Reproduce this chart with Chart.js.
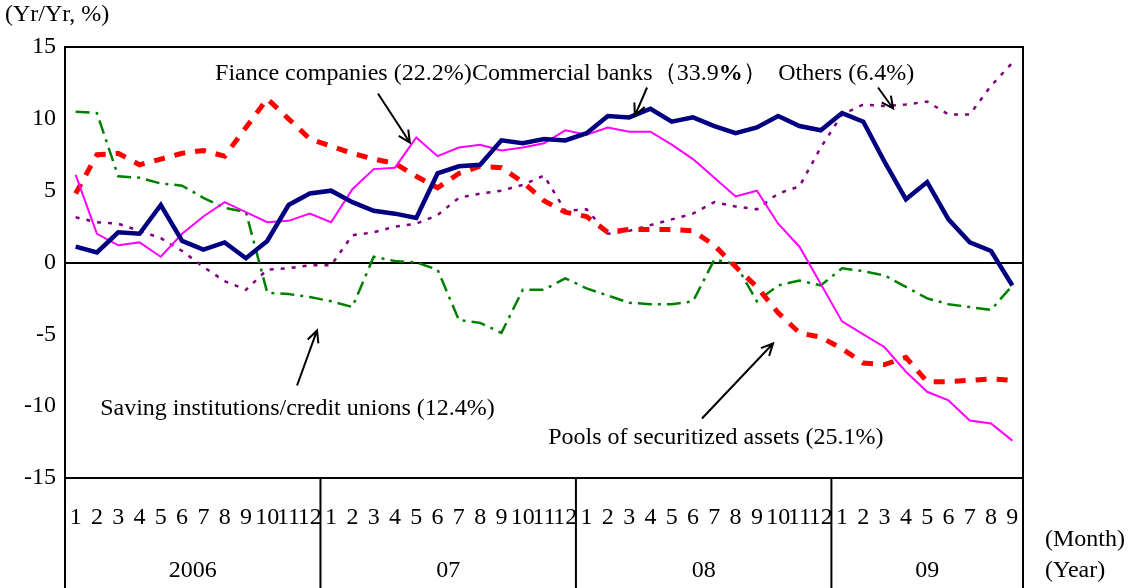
<!DOCTYPE html>
<html>
<head>
<meta charset="utf-8">
<script src="https://cdn.jsdelivr.net/npm/chart.js@4.4.1/dist/chart.umd.min.js"></script>
<style>
  html, body { margin: 0; padding: 0; background: #fff; }
  #wrap { width: 1128px; height: 588px; position: relative; }
</style>
</head>
<body>
<div id="wrap"><canvas id="chart"></canvas></div>
<script>
// months Jan 2006 .. Sep 2009
const monthTicks = [
  '1','2','3','4','5','6','7','8','9','10','11','12',
  '1','2','3','4','5','6','7','8','9','10','11','12',
  '1','2','3','4','5','6','7','8','9','10','11','12',
  '1','2','3','4','5','6','7','8','9'
];
const yearTicks = ['2006', '07', '08', '09'];
const yearMonths = [12, 12, 12, 9];

const commercialBanks = [
  1.1, 0.7, 2.1, 2.0, 4.0, 1.5, 0.9, 1.4, 0.3, 1.5, 4.0, 4.8,
  5.0, 4.2, 3.6, 3.4, 3.1, 6.2, 6.7, 6.8, 8.5, 8.3, 8.6, 8.5,
  9.0, 10.2, 10.1, 10.7, 9.8, 10.1, 9.5, 9.0, 9.4, 10.2, 9.5, 9.2,
  10.4, 9.8, 7.0, 4.4, 5.6, 3.0, 1.4, 0.8, -1.6
];
const financeCompanies = [
  6.1, 2.0, 1.2, 1.4, 0.4, 2.0, 3.2, 4.2, 3.5, 2.8, 2.9, 3.4,
  2.8, 5.1, 6.5, 6.6, 8.7, 7.4, 8.0, 8.2, 7.8, 8.0, 8.3, 9.2,
  8.9, 9.4, 9.1, 9.1, 8.2, 7.2, 5.9, 4.6, 5.0, 2.7, 1.1, -1.5,
  -4.1, -5.0, -5.9, -7.6, -9.0, -9.6, -11.0, -11.2, -12.4
];
const pools = [
  4.8, 7.5, 7.6, 6.8, 7.2, 7.6, 7.8, 7.4, 9.4, 11.4, 10.0, 8.6,
  8.1, 7.6, 7.2, 6.9, 6.0, 5.2, 6.2, 6.7, 6.6, 5.6, 4.3, 3.5,
  3.2, 2.1, 2.3, 2.3, 2.3, 2.2, 1.2, -0.3, -1.7, -3.5, -4.9, -5.2,
  -6.0, -7.0, -7.1, -6.6, -8.3, -8.3, -8.2, -8.1, -8.2
];
const savingInst = [
  10.5, 10.4, 6.0, 5.9, 5.5, 5.35, 4.5, 3.8, 3.5, -2.1, -2.2, -2.4,
  -2.7, -3.1, 0.4, 0.1, 0.0, -0.5, -4.0, -4.2, -4.9, -1.9, -1.9, -1.1,
  -1.8, -2.3, -2.8, -2.9, -2.9, -2.7, 0.2, -0.1, -2.7, -1.6, -1.25, -1.6,
  -0.4, -0.6, -0.9, -1.7, -2.5, -2.9, -3.1, -3.3, -1.6
];
const others = [
  3.15, 2.8, 2.7, 2.2, 1.7, 0.8, -0.3, -1.3, -1.9, -0.5, -0.4, -0.2,
  -0.2, 1.9, 2.1, 2.5, 2.7, 3.3, 4.5, 4.8, 5.0, 5.4, 6.05, 3.6,
  3.7, 2.0, 2.2, 2.6, 3.0, 3.4, 4.2, 3.9, 3.7, 4.8, 5.3, 8.0,
  10.3, 11.0, 10.9, 11.0, 11.2, 10.3, 10.3, 12.3, 13.9
];

// callouts, placed in data units (month index, value)
const notes = [
  { text: 'Fiance companies (22.2%)', x: 6.55, y: 13.15 },
  { text: 'Commercial banks（33.9', bold: '%', tail: '）', x: 18.62, y: 13.15 },
  { text: 'Others (6.4%)', x: 33.0, y: 13.15 },
  { text: 'Saving institutions/credit unions (12.4%)', x: 1.15, y: -10.16 },
  { text: 'Pools of securitized assets (25.1%)', x: 22.2, y: -12.18 }
];
const arrows = [
  { from: [14.2, 11.76], to: [15.7, 8.35] },
  { from: [26.84, 12.18], to: [26.27, 10.23] },
  { from: [37.69, 12.18], to: [38.4, 10.72] },
  { from: [10.4, -8.56], to: [11.34, -4.73] },
  { from: [29.42, -10.86], to: [32.76, -5.64] }
];

const FONT = '"Liberation Serif", "Times New Roman", serif';
const FS = 24;

const frameTable = {
  id: 'frameTable',
  afterDraw(chart) {
    const { ctx, chartArea: a, scales: { x, y } } = chart;
    ctx.save();
    ctx.strokeStyle = '#000';
    ctx.lineWidth = 2;
    ctx.strokeRect(a.left, a.top, a.right - a.left, a.bottom - a.top);

    // year table under the plot
    const H = chart.height;
    ctx.beginPath();
    ctx.moveTo(a.left, a.bottom); ctx.lineTo(a.left, H);
    ctx.moveTo(a.right, a.bottom); ctx.lineTo(a.right, H);
    let start = 0;
    ctx.font = FS + 'px ' + FONT;
    ctx.fillStyle = '#000';
    ctx.textAlign = 'center';
    ctx.textBaseline = 'middle';
    yearTicks.forEach((yr, i) => {
      const end = start + yearMonths[i] - 1;
      const l = start === 0 ? a.left : (x.getPixelForValue(start - 1) + x.getPixelForValue(start)) / 2;
      const r = end === monthTicks.length - 1 ? a.right : (x.getPixelForValue(end) + x.getPixelForValue(end + 1)) / 2;
      if (start !== 0) { ctx.moveTo(l, a.bottom); ctx.lineTo(l, H); }
      ctx.fillText(yr, (l + r) / 2, 571);
      start = end + 1;
    });
    ctx.stroke();

    ctx.textAlign = 'left';
    ctx.fillText('(Month)', a.right + 22, 540);
    ctx.fillText('(Year)', a.right + 22, 571);
    ctx.fillText('(Yr/Yr, %)', 5, 15);

    // callout texts
    notes.forEach(n => {
      let px = x.getPixelForValue(n.x), py = y.getPixelForValue(n.y);
      ctx.font = FS + 'px ' + FONT;
      ctx.fillText(n.text, px, py);
      if (n.bold) {
        px += ctx.measureText(n.text).width;
        ctx.font = 'bold ' + FS + 'px ' + FONT;
        ctx.fillText(n.bold, px, py);
        px += ctx.measureText(n.bold).width;
        ctx.font = FS + 'px ' + FONT;
        ctx.fillText(n.tail, px, py);
      }
    });

    // arrows
    ctx.lineWidth = 2;
    arrows.forEach(ar => {
      const x1 = x.getPixelForValue(ar.from[0]), y1 = y.getPixelForValue(ar.from[1]);
      const x2 = x.getPixelForValue(ar.to[0]), y2 = y.getPixelForValue(ar.to[1]);
      const ang = Math.atan2(y2 - y1, x2 - x1);
      ctx.beginPath();
      ctx.moveTo(x1, y1); ctx.lineTo(x2, y2);
      ctx.moveTo(x2 - 13 * Math.cos(ang - 0.45), y2 - 13 * Math.sin(ang - 0.45));
      ctx.lineTo(x2, y2);
      ctx.lineTo(x2 - 13 * Math.cos(ang + 0.45), y2 - 13 * Math.sin(ang + 0.45));
      ctx.stroke();
    });
    ctx.restore();
  }
};

const line = (label, data, color, width, dash) => ({
  label, data,
  borderColor: color,
  backgroundColor: color,
  borderWidth: width,
  borderDash: dash,
  pointRadius: 0,
  tension: 0,
  fill: false
});

new Chart(document.getElementById('chart'), {
  type: 'line',
  data: {
    labels: monthTicks,
    datasets: [
      line('Commercial banks', commercialBanks, '#000080', 4.5, []),
      line('Fiance companies', financeCompanies, '#ff00ff', 2, []),
      line('Pools of securitized assets', pools, '#ff0000', 5, [11, 10]),
      line('Saving institutions/credit unions', savingInst, '#008000', 2.5, [14, 6, 3, 6]),
      line('Others', others, '#800080', 2.5, [4, 7])
    ]
  },
  options: {
    responsive: true,
    maintainAspectRatio: false,
    animation: false,
    layout: { padding: { top: 47, right: 105, bottom: 0, left: 0 } },
    plugins: { legend: { display: false }, tooltip: { enabled: false } },
    scales: {
      x: {
        offset: true,
        grid: { display: false, drawTicks: false },
        border: { display: false },
        ticks: {
          autoSkip: false, maxRotation: 0, padding: 25,
          color: '#000', font: { family: FONT, size: FS }
        },
        afterFit: s => { s.height = 110; }
      },
      y: {
        min: -15, max: 15,
        border: { display: false },
        grid: {
          drawTicks: false,
          lineWidth: 2,
          color: c => c.tick && c.tick.value === 0 ? '#000' : 'rgba(0,0,0,0)'
        },
        ticks: {
          stepSize: 5, padding: 9,
          color: '#000', font: { family: FONT, size: FS }
        },
        afterFit: s => { s.width = 65; }
      }
    }
  },
  plugins: [frameTable]
});
</script>
</body>
</html>
